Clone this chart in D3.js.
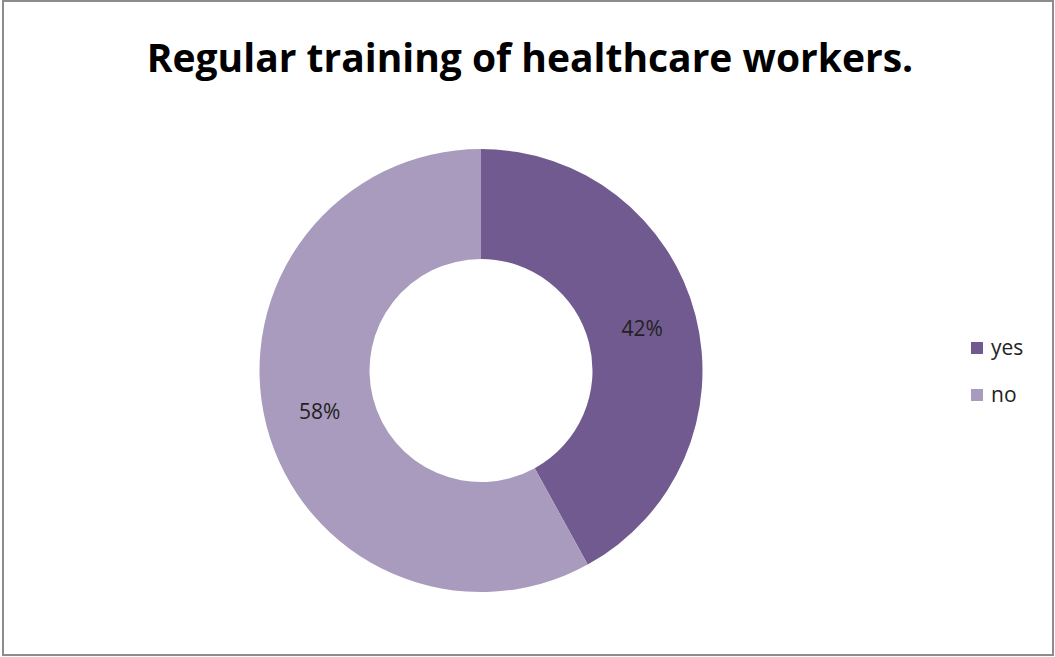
<html>
<head>
  <script src="https://d3js.org/d3.v7.min.js"></script>
  <style>
    body { margin: 0; background: #fff; }
    text { font-family: "Open Sans", "Noto Sans", sans-serif; }
  </style>
</head>
<body>
  <svg id="chart" width="1055" height="657"></svg>
  <script>
    const categories = ["yes", "no"];
    const values = [42, 58];
    const colors = ["#715A8F", "#A99BBE"];

    const svg = d3.select("#chart");

    // outer frame
    svg.append("rect")
      .attr("x", 3).attr("y", 1)
      .attr("width", 1050).attr("height", 654)
      .attr("fill", "#fff")
      .attr("stroke", "#8c8c8c")
      .attr("stroke-width", 2);

    svg.append("text")
      .attr("x", 530)
      .attr("y", 72)
      .attr("text-anchor", "middle")
      .attr("font-size", "39px")
      .attr("font-weight", "bold")
      .attr("fill", "#000")
      .text("Regular training of healthcare workers.");

    const data = categories.map((c, i) => ({ name: c, value: values[i] }));
    const color = d3.scaleOrdinal().domain(categories).range(colors);

    const pie = d3.pie().value(d => d.value).sort(null);
    const arc = d3.arc().innerRadius(111.5).outerRadius(221.5);

    const g = svg.append("g").attr("transform", "translate(481,370.5)");

    g.selectAll("path").data(pie(data))
      .join("path")
      .attr("d", arc)
      .attr("fill", d => color(d.data.name));

    g.selectAll("text.label").data(pie(data))
      .join("text")
      .attr("class", "label")
      .attr("transform", d => `translate(${arc.centroid(d)})`)
      .attr("text-anchor", "middle")
      .attr("dy", "0.35em")
      .attr("font-size", "21px")
      .attr("fill", "#222")
      .text(d => d3.format(".0%")(d.data.value / d3.sum(values)));

    const legend = svg.append("g").attr("transform", "translate(971,342)");
    const item = legend.selectAll("g").data(categories)
      .join("g")
      .attr("transform", (d, i) => `translate(0,${i * 47})`);
    item.append("rect")
      .attr("width", 12).attr("height", 12)
      .attr("fill", d => color(d));
    item.append("text")
      .attr("x", 20).attr("y", 6)
      .attr("dy", "0.35em")
      .attr("font-size", "21px")
      .attr("fill", "#222")
      .text(d => d);
  </script>
</body>
</html>
